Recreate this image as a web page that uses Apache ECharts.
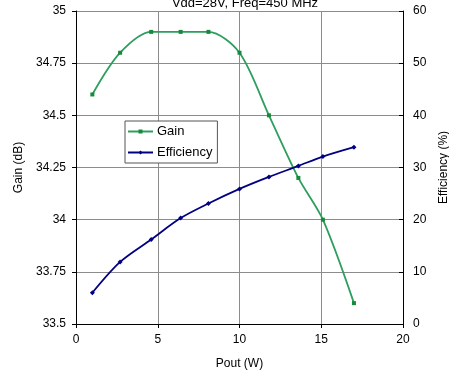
<!DOCTYPE html>
<html>
<head>
<meta charset="utf-8">
<script src="https://cdn.jsdelivr.net/npm/echarts@6/dist/echarts.min.js"></script>
<style>
  html, body { margin: 0; padding: 0; background: #fff; }
  #chart { width: 449px; height: 373px; }
</style>
</head>
<body>
<div id="chart"></div>
<script>
// Pout (W) at each measurement
const pout = [1, 2.7, 4.6, 6.4, 8.1, 10, 11.8, 13.6, 15.1, 17];
const gain = [34.6, 34.8, 34.9, 34.9, 34.9, 34.8, 34.5, 34.2, 34.0, 33.6];
const efficiency = [6.0, 11.9, 16.2, 20.3, 23.1, 25.9, 28.2, 30.3, 32.1, 33.9];

const font = 'Liberation Sans, Arial, sans-serif';
const gridColor = '#8c8c8c';
const green = '#2e9e5e';
const navy = '#000080';

const chart = echarts.init(document.getElementById('chart'));

chart.setOption({
  animation: false,
  textStyle: { fontFamily: font, color: '#000' },
  title: {
    text: 'Vdd=28V, Freq=450 MHz',
    left: 240,
    textAlign: 'center',
    top: -8,
    textStyle: { fontFamily: font, fontSize: 13, fontWeight: 'normal', color: '#000' }
  },
  legend: {
    left: 125,
    top: 121,
    orient: 'vertical',
    itemGap: 8,
    itemWidth: 25,
    itemHeight: 5,
    padding: [4, 5, 4, 2],
    borderColor: '#555',
    borderWidth: 1,
    backgroundColor: '#fff',
    textStyle: { fontFamily: font, fontSize: 13, color: '#000', padding: [0, 0, 0, -1] },
    data: ['Gain', 'Efficiency']
  },
  grid: { left: 76, right: 46, top: 11, bottom: 49, outerBoundsMode: 'none' },
  xAxis: {
    type: 'value',
    min: 0, max: 20, interval: 5,
    name: 'Pout (W)',
    nameLocation: 'middle',
    nameGap: 34,
    nameTextStyle: { fontSize: 12, color: '#000' },
    axisLine: { lineStyle: { color: '#000' } },
    axisTick: { length: 4, lineStyle: { color: '#000' } },
    axisLabel: { fontSize: 12, color: '#000', margin: 10 },
    splitLine: { show: true, lineStyle: { color: gridColor } }
  },
  yAxis: [
    {
      type: 'value',
      min: 33.5, max: 35, interval: 0.25,
      name: 'Gain (dB)',
      nameLocation: 'middle',
      nameGap: 50,
      nameTextStyle: { fontSize: 12, color: '#000' },
      axisLine: { show: true, lineStyle: { color: '#000' } },
      axisTick: { show: true, length: 4, lineStyle: { color: '#000' } },
      axisLabel: { fontSize: 12, color: '#000', margin: 10 },
      splitLine: { show: true, lineStyle: { color: gridColor } }
    },
    {
      type: 'value',
      min: 0, max: 60, interval: 10,
      name: 'Efficiency (%)',
      nameLocation: 'middle',
      nameGap: 35,
      nameRotate: 90,
      nameTextStyle: { fontSize: 12, color: '#000' },
      axisLine: { show: true, lineStyle: { color: '#000' } },
      axisTick: { show: true, inside: true, length: 4, lineStyle: { color: '#000' } },
      axisLabel: { fontSize: 12, color: '#000', margin: 10 },
      splitLine: { show: false }
    }
  ],
  series: [
    {
      name: 'Gain',
      type: 'line',
      yAxisIndex: 0,
      smooth: 0.3,
      data: pout.map((x, i) => [x, gain[i]]),
      symbol: 'rect',
      symbolSize: 4,
      lineStyle: { color: green, width: 1.8 },
      itemStyle: { color: '#168a3a' }
    },
    {
      name: 'Efficiency',
      type: 'line',
      yAxisIndex: 1,
      smooth: 0.3,
      data: pout.map((x, i) => [x, efficiency[i]]),
      symbol: 'diamond',
      symbolSize: 5,
      lineStyle: { color: navy, width: 1.8 },
      itemStyle: { color: navy }
    }
  ]
});
</script>
</body>
</html>
